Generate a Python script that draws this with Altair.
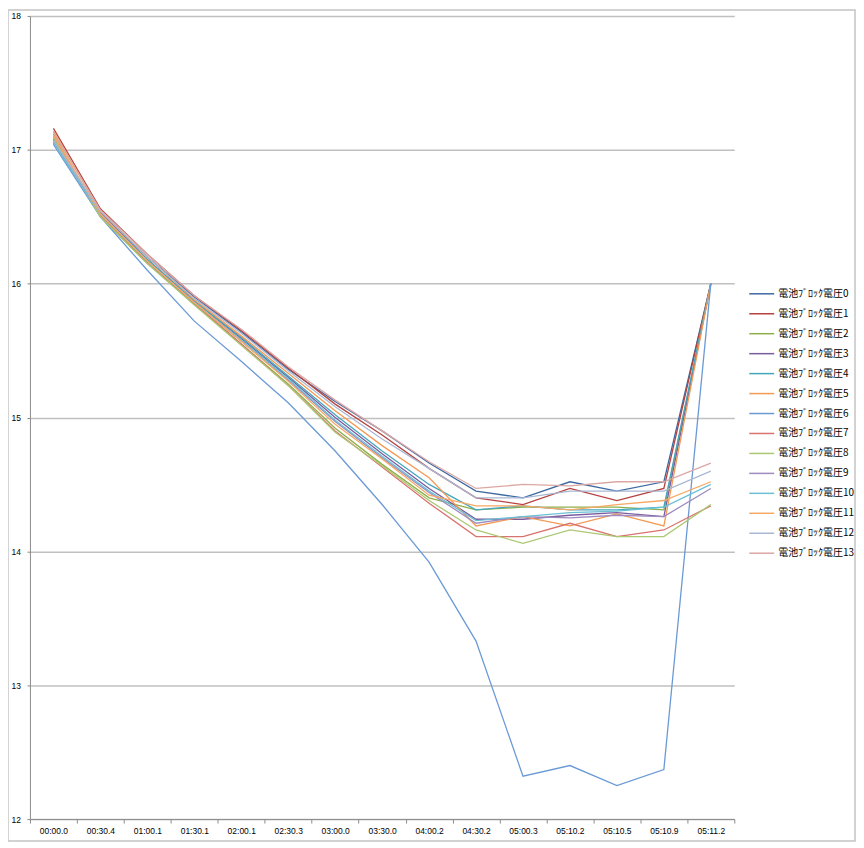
import altair as alt
import pandas as pd

times = ["00:00.0", "00:30.4", "01:00.1", "01:30.1", "02:00.1", "02:30.3", "03:00.0",
         "03:30.0", "04:00.2", "04:30.2", "05:00.3", "05:10.2", "05:10.5", "05:10.9", "05:11.2"]

s0 = [17.05, 16.53, 16.20, 15.90, 15.64, 15.36, 15.12, 14.90, 14.66, 14.45, 14.40, 14.52, 14.45, 14.52, 16.00]
s1 = [17.16, 16.56, 16.22, 15.91, 15.65, 15.37, 15.10, 14.87, 14.62, 14.40, 14.35, 14.47, 14.38, 14.47, 16.00]
s2 = [17.12, 16.50, 16.15, 15.85, 15.55, 15.25, 14.92, 14.65, 14.40, 14.31, 14.33, 14.33, 14.33, 14.31, 16.00]
s3 = [17.08, 16.53, 16.18, 15.87, 15.59, 15.30, 15.00, 14.73, 14.47, 14.24, 14.24, 14.27, 14.29, 14.26, 16.00]
s4 = [17.07, 16.52, 16.18, 15.87, 15.60, 15.31, 15.02, 14.75, 14.50, 14.31, 14.34, 14.31, 14.31, 14.33, 16.00]
s5 = [17.14, 16.54, 16.20, 15.88, 15.61, 15.33, 15.05, 14.79, 14.55, 14.19, 14.26, 14.19, 14.28, 14.19, 16.00]
s6 = [17.04, 16.50, 16.10, 15.72, 15.42, 15.11, 14.75, 14.35, 13.92, 13.33, 12.32, 12.40, 12.25, 12.37, 16.00]
s7 = [17.10, 16.51, 16.16, 15.85, 15.55, 15.24, 14.90, 14.63, 14.36, 14.11, 14.11, 14.21, 14.11, 14.16, 14.34]
s8 = [17.09, 16.50, 16.15, 15.84, 15.54, 15.24, 14.89, 14.64, 14.38, 14.16, 14.06, 14.16, 14.11, 14.11, 14.35]
s9 = [17.06, 16.52, 16.17, 15.86, 15.57, 15.28, 14.97, 14.70, 14.44, 14.21, 14.26, 14.25, 14.27, 14.26, 14.47]
s10 = [17.05, 16.52, 16.17, 15.86, 15.58, 15.29, 14.98, 14.71, 14.45, 14.23, 14.26, 14.29, 14.30, 14.33, 14.50]
s11 = [17.11, 16.52, 16.17, 15.86, 15.57, 15.27, 14.95, 14.69, 14.42, 14.34, 14.34, 14.31, 14.35, 14.38, 14.52]
s12 = [17.07, 16.54, 16.20, 15.89, 15.63, 15.35, 15.08, 14.84, 14.62, 14.40, 14.40, 14.45, 14.45, 14.45, 14.60]
s13 = [17.13, 16.55, 16.22, 15.91, 15.66, 15.38, 15.13, 14.90, 14.67, 14.47, 14.50, 14.49, 14.52, 14.52, 14.66]

series_values = [s0, s1, s2, s3, s4, s5, s6, s7, s8, s9, s10, s11, s12, s13]
series_names = ["電池ﾌﾞﾛｯｸ電圧" + str(i) for i in range(14)]
series_colors = ["#3D6AA2", "#B7423F", "#8EB04B", "#7A5C9E", "#45A6BE", "#F39A54", "#6A9AD6",
                 "#D9736F", "#ABC872", "#9F8BBE", "#6CC0D4", "#F7A865", "#A9B8D4", "#DBA7A5"]

rows = []
for name, vals in zip(series_names, series_values):
    for t, v in zip(times, vals):
        rows.append({"time": t, "series": name, "value": v})
df = pd.DataFrame(rows)

lines = alt.Chart(df).mark_line(strokeWidth=1.3).encode(
    x=alt.X("time:N", sort=times, title=None,
            scale=alt.Scale(type="band", paddingInner=0, paddingOuter=0),
            bandPosition=0.5,
            axis=alt.Axis(tickBand="extent", labelAngle=0, tickSize=4, labelPadding=3,
                          domainColor="#8c8c8c", tickColor="#8c8c8c", grid=False,
                          labelFont="Liberation Sans", labelFontSize=8.5, labelColor="#000")),
    y=alt.Y("value:Q", title=None,
            scale=alt.Scale(domain=[12, 18], nice=False, zero=False),
            axis=alt.Axis(values=[12, 13, 14, 15, 16, 17, 18], tickSize=3, labelAlign="left",
                          labelPadding=16, domainColor="#8c8c8c", tickColor="#8c8c8c",
                          gridColor="#c0c0c0", gridWidth=1.5,
                          labelFont="Liberation Sans", labelFontSize=8.5, labelColor="#000")),
    color=alt.Color("series:N", title=None,
                    scale=alt.Scale(domain=series_names, range=series_colors),
                    sort=series_names,
                    legend=alt.Legend(orient="none", legendX=720, legendY=265,
                                      symbolType="stroke", symbolSize=625, symbolStrokeWidth=1.5,
                                      rowPadding=1, labelFont="Noto Sans CJK JP",
                                      labelFontSize=10, labelColor="#000", labelOffset=3)),
    order=alt.Order("series:N"),
)

frame = alt.Chart(alt.Data(values=[{}])).mark_rect(
    fillOpacity=0, stroke="#c4c4c4", strokeWidth=1.5
).encode(x=alt.value(-22), x2=alt.value(827), y=alt.value(-6), y2=alt.value(827))

chart = alt.layer(frame, lines).properties(
    width=706, height=805,
    padding={"left": 22, "top": 7, "right": 122, "bottom": 23},
    autosize=alt.AutoSizeParams(type="none"),
).configure_view(stroke=None)

chart.save("out.html", embed_options={"renderer": "svg", "actions": False})
